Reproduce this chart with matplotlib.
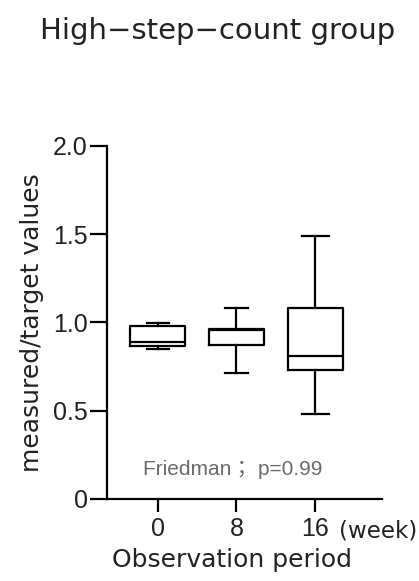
import matplotlib
matplotlib.use("Agg")
import matplotlib.pyplot as plt

categories = ["0", "8", "16"]
whislo = [0.85, 0.713, 0.479]
q1 = [0.868, 0.870, 0.728]
med = [0.889, 0.955, 0.808]
q3 = [0.981, 0.962, 1.081]
whishi = [0.996, 1.081, 1.491]
yticks = [0, 0.5, 1.0, 1.5, 2.0]
ytick_labels = ["0", "0.5", "1.0", "1.5", "2.0"]
annotation = "Friedman； p=0.99"

W, H = 419, 581
fig = plt.figure(figsize=(4.19, 5.81), dpi=100)
ax = fig.add_axes([107 / W, 1 - 499 / H, (382 - 107) / W, (499 - 145.8) / H])

stats = []
for i, c in enumerate(categories):
    stats.append(dict(label=c, whislo=whislo[i], q1=q1[i], med=med[i],
                      q3=q3[i], whishi=whishi[i], fliers=[]))

lp = dict(color="black", linewidth=1.6)
ax.bxp(stats, positions=[1, 2, 3], widths=0.69, capwidths=[0.28, 0.28, 0.34],
       showfliers=False, boxprops=lp, whiskerprops=lp, capprops=lp,
       medianprops=lp)

ax.set_xlim(0.357, 3.846)
ax.set_ylim(0, 2.0)
ax.set_yticks(yticks)
ax.set_yticklabels(ytick_labels, family="Liberation Sans", fontsize=18,
                   color="#222222")
ax.set_xticks([1, 2, 3])
ax.set_xticklabels(categories, family="Liberation Sans", fontsize=18,
                   color="#222222")
ax.tick_params(axis="y", length=12, width=1.6, direction="out", pad=2)
ax.tick_params(axis="x", length=9, width=1.6, direction="out", pad=4)
for s in ["top", "right"]:
    ax.spines[s].set_visible(False)
for s in ["left", "bottom"]:
    ax.spines[s].set_linewidth(1.6)

ax.text(1.955, 0.136, annotation, ha="center", va="baseline", color="#6a6a6a",
        fontsize=15, family=["Liberation Sans", "Noto Sans CJK JP"])

fig.text(32 / W, 1 - 322.5 / H, "measured/target values", rotation=90,
         ha="center", va="center", fontsize=18, family="DejaVu Sans",
         color="#222222")
fig.text(231.5 / W, 1 - 567 / H, "Observation period", ha="center",
         va="baseline", fontsize=18, family="DejaVu Sans", color="#222222")
fig.text(378 / W, 1 - 537 / H, "(week)", ha="center", va="baseline",
         fontsize=16.5, family="DejaVu Sans", color="#222222")
fig.text(218 / W, 1 - 39 / H, "High−step−count group", ha="center",
         va="baseline", fontsize=21, family="DejaVu Sans", color="#222222")

fig.savefig("out.png", dpi=100)
